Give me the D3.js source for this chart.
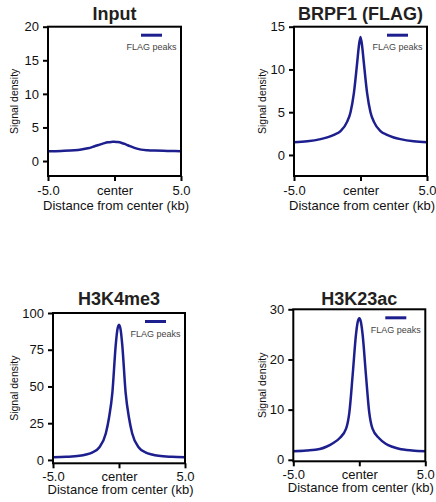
<!DOCTYPE html>
<html>
<head>
<meta charset="utf-8">
<script src="https://cdn.jsdelivr.net/npm/d3@7"></script>
<style>
  body { margin: 0; background: #fff; }
  svg { display: block; font-family: "Liberation Sans", Arial, sans-serif; }
</style>
</head>
<body>
<div id="chart"></div>
<script>
// distance from peak center, kb
const positions = [-5, -4, -3, -2.5, -2, -1.5, -1, -0.75, -0.5, -0.25, -0.125, 0, 0.125, 0.25, 0.5, 0.75, 1, 1.5, 2, 2.5, 3, 4, 5]

const titles = ['Input', 'BRPF1 (FLAG)', 'H3K4me3', 'H3K23ac']
const seriesName = 'FLAG peaks'

const inputValues = [1.45, 1.5, 1.6, 1.72, 1.9, 2.2, 2.52, 2.67, 2.78, 2.84, 2.855, 2.86, 2.85, 2.82, 2.72, 2.55, 2.35, 1.95, 1.7, 1.6, 1.55, 1.5, 1.45]
const brpf1Values = [1.5, 1.6, 1.85, 2.05, 2.35, 2.8, 3.9, 5.0, 7.2, 10.8, 12.7, 13.8, 12.7, 10.8, 7.2, 5.0, 3.9, 2.8, 2.35, 2.05, 1.85, 1.6, 1.5]
const h3k4me3Values = [1.8, 2.1, 2.8, 3.7, 5.2, 8.5, 18, 29, 46, 78, 88.5, 92, 88.5, 78, 46, 29, 18, 8.5, 5.2, 3.7, 2.8, 2.1, 1.8]
const h3k23acValues = [1.7, 1.85, 2.15, 2.6, 3.3, 4.3, 6.2, 9.5, 17, 25, 27.4, 28.2, 27.4, 25, 17, 9.5, 6.2, 4.3, 3.2, 2.6, 2.2, 1.85, 1.7]
const allValues = [inputValues, brpf1Values, h3k4me3Values, h3k23acValues]

const xTickValues = [-5, 0, 5]
const xTickLabels = ['-5.0', 'center', '5.0']
const yTicks = [[0, 5, 10, 15, 20], [0, 5, 10, 15], [0, 25, 50, 75, 100], [0, 10, 20, 30]]
const yDomains = [[-2.23, 20], [-2.46, 15], [-2.3, 100], [-0.3, 30]]

// panel boxes (layout only)
const layout = [
  { left: 48, top: 26.7, width: 133, height: 149.3, titleY: 20, yLabelX: 14, xPad: 5, xLabelDy: 33.5 },
  { left: 294, top: 26.7, width: 133, height: 149.3, titleY: 20, yLabelX: 262.5, xPad: 5, xLabelDy: 33.5 },
  { left: 53, top: 313, width: 132, height: 150.3, titleY: 305, yLabelX: 14, xPad: 3, xLabelDy: 31 },
  { left: 293.3, top: 309.3, width: 132, height: 152, titleY: 305, yLabelX: 262, xPad: 3, xLabelDy: 31 }
]

const lineColor = '#1d1f8f'

const svg = d3.select('#chart')
  .append('svg')
  .attr('width', 436)
  .attr('height', 502)

titles.forEach((title, i) => {
  const box = layout[i]
  const data = positions.map((p, k) => ({ x: p, y: allValues[i][k] }))

  const x = d3.scaleLinear().domain([-5, 5]).range([0, box.width])
  const y = d3.scaleLinear().domain(yDomains[i]).range([box.height, 0])

  const g = svg.append('g')
    .attr('transform', `translate(${box.left}, ${box.top})`)

  // 曲线
  g.append('path')
    .datum(data)
    .attr('d', d3.line().x(d => x(d.x)).y(d => y(d.y)).curve(d3.curveMonotoneX))
    .style('fill', 'none')
    .style('stroke', lineColor)
    .style('stroke-width', '2.5px')

  // 坐标轴
  const yAxis = g.append('g')
    .call(d3.axisLeft(y).tickValues(yTicks[i]).tickSize(5).tickPadding(4).tickSizeOuter(0))
  const xAxis = g.append('g')
    .attr('transform', `translate(0, ${box.height})`)
    .call(d3.axisBottom(x).tickValues(xTickValues).tickFormat((d, k) => xTickLabels[k])
      .tickSize(5).tickPadding(box.xPad).tickSizeOuter(0))
  ;[yAxis, xAxis].forEach(a => {
    a.select('.domain').attr('d', null)
    a.selectAll('line').style('stroke', '#000').style('stroke-width', '2px')
    a.selectAll('text').style('font-size', '13px').style('fill', '#111')
  })

  // frame
  g.append('rect')
    .attr('width', box.width)
    .attr('height', box.height)
    .style('fill', 'none')
    .style('stroke', '#000')
    .style('stroke-width', '2px')

  // legend
  g.append('line')
    .attr('x1', box.width - 40).attr('x2', box.width - 19)
    .attr('y1', 8.5).attr('y2', 8.5)
    .style('stroke', lineColor)
    .style('stroke-width', '3px')
  g.append('text')
    .attr('x', box.width - 29.5)
    .attr('y', 23.5)
    .attr('text-anchor', 'middle')
    .style('font-size', '9px')
    .style('fill', '#444')
    .text(seriesName)

  // titles and axis labels
  svg.append('text')
    .attr('x', box.left + box.width / 2)
    .attr('y', box.titleY)
    .attr('text-anchor', 'middle')
    .style('font-size', '18px')
    .style('font-weight', 'bold')
    .style('fill', '#231f20')
    .text(title)

  svg.append('text')
    .attr('transform', `translate(${box.yLabelX}, ${box.top + box.height / 2}) rotate(-90)`)
    .attr('text-anchor', 'middle')
    .attr('dy', '0.35em')
    .style('font-size', '10.5px')
    .style('fill', '#111')
    .text('Signal density')

  svg.append('text')
    .attr('x', box.left + box.width / 2 + 1.5)
    .attr('y', box.top + box.height + box.xLabelDy)
    .attr('text-anchor', 'middle')
    .style('font-size', '13px')
    .style('fill', '#111')
    .text('Distance from center (kb)')
})
</script>
</body>
</html>
